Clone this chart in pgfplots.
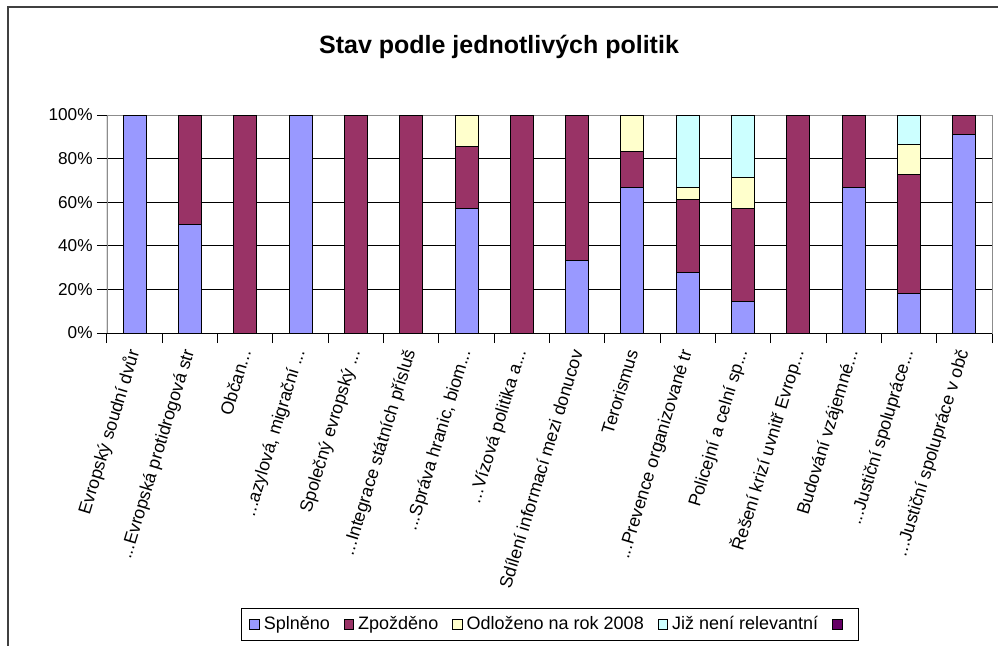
\documentclass[border=0pt]{standalone}
\usepackage{pgfplots}
\pgfplotsset{compat=1.18}
\usepackage{fontspec}
\setmainfont{Liberation Sans}
\definecolor{cBlue}{HTML}{9999FF}
\definecolor{cRed}{HTML}{993366}
\definecolor{cYel}{HTML}{FFFFCC}
\definecolor{cCyan}{HTML}{CCFFFF}
\definecolor{cPurp}{HTML}{660066}
\DeclareRobustCommand\dd{...}
\pgfplotsset{sqlegend/.style={legend image code/.code={\draw[##1, line width=0.4pt] (0pt,-2.3pt) rectangle (4.8pt,2.5pt);}}}
\begin{document}
\begin{tikzpicture}
\path[use as bounding box] (-53.5pt,-156pt) rectangle (445.5pt,166.5pt);
\draw[black!75, line width=1pt] (-49.5pt,-157pt) -- (-49.5pt,163pt) -- (447pt,163pt);
\node[font=\bfseries\fontsize{12.5}{15}\selectfont] at (196pt,143pt) {Stav podle jednotlivých politik};
\begin{axis}[
  at={(0pt,0pt)}, anchor=south west,
  scale only axis, width=442.5pt, height=109pt,
  ybar stacked, bar width=11.5pt,
  xmin=-0.5, xmax=15.5, ymin=0, ymax=100,
  axis line style={draw=black!45},
  tick pos=left, tick align=outside,
  xtick={0,1,2,3,4,5,6,7,8,9,10,11,12,13,14,15},
  major x tick style={draw=none},
  minor xtick={-0.5,0.5,1.5,2.5,3.5,4.5,5.5,6.5,7.5,8.5,9.5,10.5,11.5,12.5,13.5,14.5,15.5},
  minor x tick style={draw=black, line width=0.5pt},
  minor tick length=5pt,
  ytick={0,20,40,60,80}, extra y ticks={100}, extra y tick style={grid=none},
  extra y tick labels={100\%},
  yticklabels={0\%,20\%,40\%,60\%,80\%},
  ymajorgrids, grid style={draw=black, line width=0.5pt},
  y tick style={draw=black, line width=0.5pt}, major tick length=5pt,
  tick label style={font=\fontsize{8.6}{10}\selectfont},
  yticklabel style={inner sep=0pt, xshift=-2pt},
  xticklabel style={yshift=-3.5pt, rotate=73, anchor=east, inner sep=0pt, font=\fontsize{8.9}{10}\selectfont},
  xticklabels={
    {Evropský soudní dvůr\hspace{3.7pt}},
    {\dd Evropská protidrogová str\hspace{6.3pt}},
    {Občan\dd\hspace{31.4pt}},
    {\dd azylová, migrační \dd\hspace{33pt}},
    {Společný evropský \dd\hspace{40.8pt}},
    {\dd Integrace státních přísluš\hspace{5.2pt}},
    {\dd Správa hranic, biom\dd\hspace{19.9pt}},
    {\dd Vízová politika a\dd\hspace{32.4pt}},
    {Sdílení informací mezi donucov\hspace{-3.7pt}},
    {Terorismus},
    {\dd Prevence organizované tr\hspace{11.5pt}},
    {Policejní a celní sp\dd\hspace{22.5pt}},
    {Řešení krizí uvnitř Evrop\dd\hspace{15.7pt}},
    {Budování vzájemné\dd\hspace{31.4pt}},
    {\dd Justiční spolupráce\dd\hspace{29.8pt}},
    {\dd Justiční spolupráce v obč\hspace{8.9pt}}},
  legend columns=-1,
  legend style={at={(0.5006,-1.337)}, anchor=center, draw=black, line width=0.6pt,
    font=\fontsize{9}{10}\selectfont, inner xsep=4pt, inner ysep=2pt,
    /tikz/every even column/.append style={column sep=5pt}},
]
\addplot[fill=cBlue, draw=black, line width=0.5pt, sqlegend] coordinates {(0,100) (1,50) (2,0) (3,100) (4,0) (5,0) (6,57.14) (7,0) (8,33.33) (9,66.67) (10,27.78) (11,14.29) (12,0) (13,66.67) (14,18.18) (15,90.91)};
\addlegendentry{Splněno}
\addplot[fill=cRed, draw=black, line width=0.5pt, sqlegend] coordinates {(0,0) (1,50) (2,100) (3,0) (4,100) (5,100) (6,28.57) (7,100) (8,66.67) (9,16.67) (10,33.33) (11,42.86) (12,100) (13,33.33) (14,54.55) (15,9.09)};
\addlegendentry{Zpožděno}
\addplot[fill=cYel, draw=black, line width=0.5pt, sqlegend] coordinates {(0,0) (1,0) (2,0) (3,0) (4,0) (5,0) (6,14.29) (7,0) (8,0) (9,16.66) (10,5.56) (11,14.28) (12,0) (13,0) (14,13.64) (15,0)};
\addlegendentry{Odloženo na rok 2008}
\addplot[fill=cCyan, draw=black, line width=0.5pt, sqlegend] coordinates {(0,0) (1,0) (2,0) (3,0) (4,0) (5,0) (6,0) (7,0) (8,0) (9,0) (10,33.33) (11,28.57) (12,0) (13,0) (14,13.63) (15,0)};
\addlegendentry{Již není relevantní}
\addlegendimage{fill=cPurp, draw=black, sqlegend}
\addlegendentry{}
\draw[black, line width=0.5pt] (rel axis cs:0,1) -- (rel axis cs:0,0) -- (rel axis cs:1,0);
\end{axis}
\end{tikzpicture}
\end{document}
